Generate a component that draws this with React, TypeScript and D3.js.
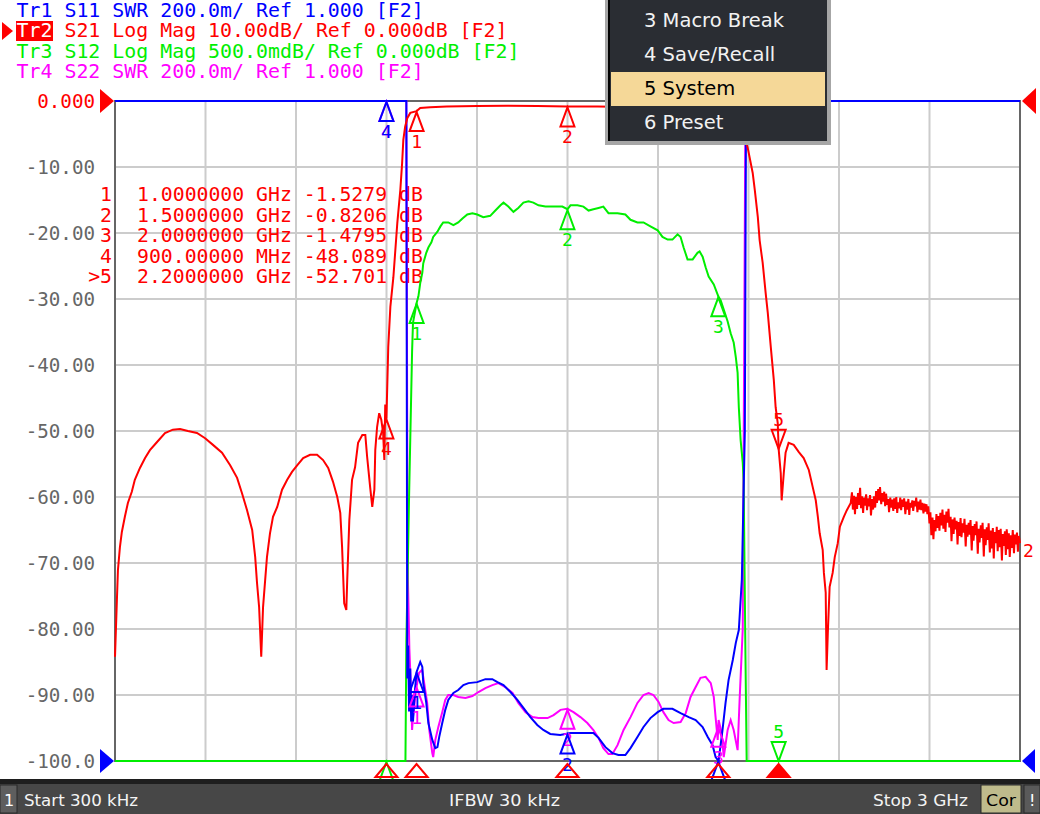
import React from 'react';
import * as d3 from 'd3';

// ---------- DATA ----------
const FREQ_START = 0.3; // MHz (300 kHz)
const FREQ_STOP = 3000; // MHz (3 GHz)

const yTickValues = [0, -10, -20, -30, -40, -50, -60, -70, -80, -90, -100];
const yTickLabels = ['0.000', '-10.00', '-20.00', '-30.00', '-40.00', '-50.00', '-60.00', '-70.00', '-80.00', '-90.00', '-100.0'];

const headerTexts = [
  'Tr1 S11 SWR 200.0m/ Ref 1.000 [F2]',
  'Tr2 S21 Log Mag 10.00dB/ Ref 0.000dB [F2]',
  'Tr3 S12 Log Mag 500.0mdB/ Ref 0.000dB [F2]',
  'Tr4 S22 SWR 200.0m/ Ref 1.000 [F2]',
];

const markerFreqs = [1000, 1500, 2000, 900, 2200];
const markerNames = ['1', '2', '3', '4', '>5'];
const markerStimText = ['1.0000000 GHz', '1.5000000 GHz', '2.0000000 GHz', '900.00000 MHz', '2.2000000 GHz'];
const markerValues = [-1.5279, -0.8206, -1.4795, -48.089, -52.701];
const markerValueText = ['-1.5279 dB', '-0.8206 dB', '-1.4795 dB', '-48.089 dB', '-52.701 dB'];
const activeMarker = 4;

const menuItems = ['3 Macro Break', '4 Save/Recall', '5 System', '6 Preset'];
const menuSelected = 2;

const statusTexts = ['Start 300 kHz', 'IFBW 30 kHz', 'Stop 3 GHz'];

// Tr2 S21 (dB)
const s21: [number, number][] = [
  [0.3, -84.2], [6.6, -75.6], [10, -71.1], [16.6, -67.6], [23, -65.3], [33, -63.0], [43, -60.9], [56, -59.2],
  [66, -57.4], [83, -55.6], [100, -54.1], [116, -52.9], [139, -51.7], [166, -50.3], [192, -49.8], [216, -49.7],
  [242, -50.0], [272, -50.3], [299, -51.1], [325, -52.1], [355, -53.3], [382, -55.2], [405, -57.1], [421, -59.4],
  [438, -62.0], [455, -65.0], [465, -69.1], [471, -73.0], [478, -76.7], [485, -84.2], [491, -76.7], [498, -72.6],
  [504, -69.1], [514, -65.5], [524, -63.0], [538, -61.5], [554, -58.9], [571, -57.4], [587, -56.2], [604, -55.2],
  [624, -54.1], [647, -53.6], [670, -53.6], [690, -54.4], [707, -55.6], [723, -57.7], [737, -60.0], [747, -62.4],
  [753, -67.6], [760, -76.1], [767, -77.1], [770, -72.6], [777, -63.5], [786, -57.4], [796, -55.5], [806, -51.8],
  [820, -50.6], [830, -50.6], [836, -53.9], [846, -58.5], [853, -61.5], [860, -58.9], [863, -52.9], [869, -49.4],
  [876, -47.3], [883, -48.3], [889, -50.3], [893, -54.4], [896, -46.0], [900, -48.09], [906, -37.3], [913, -31.2],
  [923, -26.7], [936, -18.5], [946, -13.5], [952, -9.4], [956, -5.9], [962, -3.9], [969, -2.6], [979, -1.8],
  [1000, -1.53], [1012, -1.06], [1045, -0.95], [1100, -0.85], [1200, -0.75], [1300, -0.72], [1400, -0.75],
  [1500, -0.82], [1600, -0.85], [1700, -0.9], [1800, -1.0], [1900, -1.15], [1950, -1.3], [2000, -1.48],
  [2040, -2.2], [2070, -3.5], [2085, -5.0], [2097, -7.0], [2101, -7.9], [2114, -10.9], [2121, -13.5],
  [2131, -17.6], [2137, -21.1], [2147, -24.5], [2157, -29.1], [2164, -32.1], [2174, -37.3], [2184, -42.3],
  [2190, -46.4], [2197, -48.8], [2200, -52.7], [2207, -56.4], [2210, -60.5], [2217, -56.4], [2223, -53.3],
  [2233, -51.8], [2250, -52.1], [2267, -53.2], [2283, -54.1], [2300, -55.9], [2313, -58.5], [2323, -60.5],
  [2330, -63.0], [2336, -65.5], [2346, -68.0], [2350, -71.5], [2356, -74.5], [2359, -86.2], [2363, -80.6],
  [2369, -73.6], [2379, -71.5], [2386, -69.1], [2396, -67.0], [2403, -64.5], [2416, -63.0], [2426, -62.0],
  [2439, -60.9], [2443, -59.3], [2446, -61.9], [2450, -59.8], [2453, -62.6], [2456, -60.0], [2460, -61.8],
  [2463, -59.4], [2466, -61.2], [2470, -58.6], [2473, -61.7], [2476, -59.9], [2480, -62.4], [2483, -60.1],
  [2486, -61.3], [2490, -59.6], [2493, -62.0], [2496, -60.2], [2500, -61.4], [2503, -59.7], [2506, -62.8],
  [2510, -60.3], [2513, -61.9], [2516, -59.9], [2520, -61.6], [2523, -59.1], [2526, -60.9], [2530, -58.8],
  [2533, -60.5], [2536, -58.5], [2540, -61.1], [2543, -59.4], [2546, -60.7], [2550, -59.2], [2553, -61.4],
  [2556, -59.5], [2560, -61.2], [2563, -60.3], [2566, -62.3], [2570, -60.1], [2573, -61.6], [2576, -60.4],
  [2580, -62.1], [2583, -60.2], [2586, -61.8], [2590, -60.0], [2593, -62.4], [2596, -60.8], [2600, -61.7],
  [2603, -60.1], [2606, -62.0], [2610, -60.4], [2613, -61.5], [2616, -60.2], [2620, -62.6], [2623, -60.7],
  [2626, -61.9], [2630, -60.3], [2633, -62.7], [2636, -60.9], [2640, -61.6], [2643, -60.5], [2646, -62.1],
  [2650, -60.6], [2653, -61.4], [2656, -60.1], [2660, -62.3], [2663, -60.7], [2666, -61.9], [2670, -60.4],
  [2673, -62.0], [2676, -60.9], [2680, -62.5], [2683, -61.0], [2686, -62.2], [2690, -61.1], [2693, -62.6],
  [2696, -61.4], [2700, -64.0], [2703, -62.3], [2706, -65.8], [2710, -63.1], [2713, -66.4], [2716, -63.5],
  [2720, -65.2], [2723, -62.6], [2726, -64.7], [2730, -62.9], [2733, -65.1], [2736, -62.4], [2740, -64.3],
  [2743, -61.9], [2746, -64.8], [2750, -62.7], [2753, -65.3], [2756, -62.2], [2760, -63.9], [2763, -61.8],
  [2766, -64.6], [2770, -63.0], [2773, -66.7], [2776, -63.4], [2780, -65.6], [2783, -63.1], [2786, -64.9],
  [2790, -63.6], [2793, -67.2], [2796, -63.8], [2800, -65.9], [2803, -63.2], [2806, -66.1], [2810, -64.0],
  [2813, -65.4], [2816, -63.3], [2820, -67.5], [2823, -64.2], [2826, -66.0], [2830, -63.9], [2833, -65.7],
  [2836, -63.5], [2840, -68.1], [2843, -64.4], [2846, -66.6], [2850, -64.1], [2853, -65.8], [2856, -63.7],
  [2860, -68.6], [2863, -64.8], [2866, -66.9], [2870, -64.3], [2873, -66.2], [2876, -63.9], [2880, -69.0],
  [2883, -64.9], [2886, -67.3], [2890, -64.6], [2893, -66.5], [2896, -64.0], [2900, -68.4], [2903, -65.1],
  [2906, -67.8], [2910, -64.7], [2913, -69.3], [2916, -65.3], [2920, -67.0], [2923, -64.5], [2926, -68.2],
  [2930, -65.0], [2933, -67.6], [2936, -64.8], [2940, -69.6], [2943, -65.6], [2946, -67.4], [2950, -65.2],
  [2953, -68.8], [2956, -64.9], [2960, -67.9], [2963, -65.5], [2966, -69.1], [2970, -65.8], [2973, -67.7],
  [2976, -65.0], [2980, -68.5], [2983, -65.7], [2986, -67.2], [2990, -65.4], [2993, -68.3], [2996, -65.9],
  [3000, -67.0],
];

// Tr3 S12 (dB, 0.5 dB/div)
const s12: [number, number][] = [
  [0.3, -6], [963, -6], [966, -4.1], [975, -3.0], [985, -1.9], [988, -1.68], [1000, -1.53], [1006, -1.48],
  [1012, -1.38], [1019, -1.30], [1022, -1.23], [1032, -1.15], [1039, -1.11], [1049, -1.07], [1055, -1.03],
  [1069, -0.99], [1079, -0.95], [1088, -0.92], [1105, -0.92], [1122, -0.94], [1138, -0.92], [1152, -0.89],
  [1168, -0.86], [1185, -0.85], [1201, -0.86], [1221, -0.88], [1244, -0.87], [1261, -0.83], [1278, -0.79],
  [1288, -0.77], [1304, -0.80], [1321, -0.84], [1337, -0.81], [1354, -0.77], [1371, -0.76], [1387, -0.77],
  [1404, -0.79], [1427, -0.80], [1454, -0.80], [1483, -0.80], [1500, -0.82], [1510, -0.79], [1533, -0.79],
  [1553, -0.80], [1570, -0.83], [1586, -0.82], [1603, -0.81], [1619, -0.80], [1636, -0.85], [1666, -0.85],
  [1692, -0.86], [1709, -0.90], [1732, -0.92], [1752, -0.92], [1775, -0.95], [1799, -0.98], [1815, -1.03],
  [1832, -1.05], [1848, -1.05], [1865, -1.01], [1875, -1.03], [1885, -1.11], [1898, -1.20], [1915, -1.20],
  [1931, -1.15], [1938, -1.14], [1948, -1.18], [1958, -1.26], [1968, -1.33], [1985, -1.39], [2000, -1.48],
  [2008, -1.51], [2018, -1.58], [2031, -1.67], [2041, -1.76], [2051, -1.83], [2058, -1.94], [2064, -2.06],
  [2068, -2.32], [2074, -2.57], [2081, -2.74], [2084, -2.87], [2090, -4.2], [2094, -6], [3000, -6],
];

// Tr1 S11 (SWR)
const s11: [number, number][] = [
  [0.3, 5], [966, 5], [969, 1.25], [972, 1.35], [975, 1.15], [979, 1.28], [982, 1.12], [985, 1.2], [988, 1.12],
  [994, 1.21], [1000, 1.27], [1012, 1.3], [1019, 1.285], [1022, 1.236], [1032, 1.176], [1039, 1.115],
  [1052, 1.064], [1062, 1.039], [1069, 1.042], [1075, 1.073], [1085, 1.115], [1095, 1.155], [1105, 1.185],
  [1122, 1.206], [1138, 1.215], [1155, 1.23], [1172, 1.236], [1201, 1.239], [1228, 1.248], [1251, 1.248],
  [1268, 1.239], [1288, 1.23], [1311, 1.209], [1334, 1.185], [1354, 1.161], [1377, 1.133], [1400, 1.109],
  [1420, 1.094], [1443, 1.082], [1476, 1.079], [1510, 1.085], [1553, 1.085], [1586, 1.085], [1603, 1.07],
  [1626, 1.042], [1649, 1.024], [1669, 1.018], [1692, 1.018], [1709, 1.039], [1732, 1.073], [1752, 1.103],
  [1775, 1.13], [1799, 1.148], [1818, 1.158], [1848, 1.158], [1875, 1.145], [1902, 1.133], [1925, 1.124],
  [1948, 1.103], [1965, 1.073], [1981, 1.048], [1991, 1.012], [2001, 1.0], [2014, 1.094], [2024, 1.176],
  [2034, 1.245], [2048, 1.306], [2058, 1.358], [2068, 1.397], [2078, 1.55], [2088, 2.0], [2092, 5], [3000, 5],
];

// Tr4 S22 (SWR)
const s22: [number, number][] = [
  [0.3, 5], [966, 5], [970, 1.6], [976, 1.34], [982, 1.2], [985, 1.094], [988, 1.133], [998, 1.215],
  [1008, 1.267], [1018, 1.276], [1022, 1.255], [1035, 1.176], [1042, 1.094], [1052, 1.024], [1055, 1.012],
  [1062, 1.064], [1072, 1.103], [1085, 1.148], [1095, 1.185], [1105, 1.2], [1122, 1.2], [1138, 1.194],
  [1162, 1.191], [1185, 1.197], [1205, 1.209], [1228, 1.221], [1251, 1.23], [1271, 1.236], [1294, 1.224],
  [1318, 1.206], [1337, 1.176], [1361, 1.148], [1384, 1.133], [1404, 1.13], [1434, 1.13], [1454, 1.139],
  [1477, 1.155], [1500, 1.158], [1520, 1.148], [1543, 1.133], [1566, 1.115], [1586, 1.094], [1603, 1.07],
  [1619, 1.039], [1636, 1.021], [1649, 1.021], [1666, 1.048], [1686, 1.094], [1709, 1.133], [1732, 1.176],
  [1752, 1.2], [1769, 1.206], [1785, 1.2], [1802, 1.179], [1818, 1.148], [1835, 1.124], [1852, 1.115],
  [1875, 1.118], [1892, 1.145], [1908, 1.194], [1925, 1.224], [1941, 1.252], [1958, 1.255], [1975, 1.236],
  [1985, 1.194], [1991, 1.133], [1998, 1.064], [2001, 1.124], [2011, 1.085], [2018, 1.012], [2031, 1.094],
  [2041, 1.124], [2051, 1.094], [2064, 1.033], [2071, 1.194], [2081, 1.4], [2090, 5], [3000, 5],
];

// ---------- LAYOUT ----------
const W = 1040;
const H = 814;
const PL = 115, PR = 1020, PT = 101, PB = 761;

const C_BLUE = '#0000ff';
const C_RED = '#ff0000';
const C_GREEN = '#00ee00';
const C_MAG = '#ff00ff';
const MONO = "'DejaVu Sans Mono', 'Liberation Mono', monospace";
const SANS = "'DejaVu Sans', 'Liberation Sans', sans-serif";

const x = d3.scaleLinear().domain([FREQ_START, FREQ_STOP]).range([PL, PR]);
const yDb = d3.scaleLinear().domain([-100, 0]).range([PB, PT]).clamp(true);
const yS12 = d3.scaleLinear().domain([-5, 0]).range([PB, PT]).clamp(true);
const ySwr = d3.scaleLinear().domain([1, 3]).range([PB, PT]).clamp(true);

const bis = d3.bisector((d: [number, number]) => d[0]).left;
function valueAt(tr: [number, number][], f: number) {
  const i = Math.max(1, Math.min(tr.length - 1, bis(tr, f)));
  const a = tr[i - 1], b = tr[i];
  const t = (f - a[0]) / (b[0] - a[0] || 1);
  return a[1] + t * (b[1] - a[1]);
}

function path(tr: [number, number][], ys: (v: number) => number) {
  return d3.line<[number, number]>().x(d => x(d[0])).y(d => ys(d[1]))(tr) || '';
}

function Marker({ px, py, color, label, active }: any) {
  if (active) {
    return (
      <g>
        <path d={`M${px},${py} L${px - 7},${py - 19} L${px + 7},${py - 19} Z`} fill="none" stroke={color} strokeWidth={2} />
        <text x={px} y={py - 23} fill={color} fontFamily={MONO} fontSize={18} textAnchor="middle">{label}</text>
      </g>
    );
  }
  return (
    <g>
      <path d={`M${px},${py + 1} L${px - 7},${py + 20} L${px + 7},${py + 20} Z`} fill="none" stroke={color} strokeWidth={2} />
      <text x={px} y={py + 37} fill={color} fontFamily={MONO} fontSize={18} textAnchor="middle">{label}</text>
    </g>
  );
}

export default function App() {
  const xGrid = d3.range(1, 10).map(i => PL + (PR - PL) * i / 10);
  const traces = [
    { data: s22, ys: ySwr, color: C_MAG },
    { data: s12, ys: yS12, color: C_GREEN },
    { data: s11, ys: ySwr, color: C_BLUE },
    { data: s21, ys: yDb, color: C_RED },
  ];
  const headerColors = [C_BLUE, C_RED, C_GREEN, C_MAG];
  const rowY = [194, 214.5, 235, 255.5, 276];

  return (
    <svg width={W} height={H} viewBox={`0 0 ${W} ${H}`} style={{ position: 'absolute', left: 0, top: 0, background: '#fff', display: 'block' }}>
      <rect x={0} y={0} width={W} height={H} fill="#fff" />
      {/* grid */}
      {xGrid.map((gx, i) => (
        <line key={'gx' + i} x1={gx} x2={gx} y1={PT} y2={PB} stroke="#cccccc" strokeWidth={2} />
      ))}
      {yTickValues.slice(1, -1).map((v, i) => (
        <line key={'gy' + i} x1={PL} x2={PR} y1={yDb(v)} y2={yDb(v)} stroke="#cccccc" strokeWidth={2} />
      ))}
      <rect x={PL} y={PT} width={PR - PL} height={PB - PT} fill="none" stroke="#666" strokeWidth={2} />

      {/* y labels */}
      {yTickValues.map((v, i) => (
        <text key={'yl' + i} x={95} y={yDb(v) + 7} textAnchor="end" fontFamily={MONO} fontSize={19.2}
          fill={i === 0 ? C_RED : '#666'}>{yTickLabels[i]}</text>
      ))}

      {/* marker table */}
      {markerNames.map((n, i) => (
        <g key={'mt' + i} fontFamily={MONO} fontSize={19.8} fill={C_RED}>
          <text x={112} y={rowY[i] + 7} textAnchor="end">{n}</text>
          <text x={137} y={rowY[i] + 7} style={{ whiteSpace: 'pre' }}>{markerStimText[i] + ' ' + markerValueText[i]}</text>
        </g>
      ))}

      {/* traces */}
      {traces.map((t, i) => (
        <path key={'tr' + i} d={path(t.data, t.ys)} fill="none" stroke={t.color} strokeWidth={2} strokeLinejoin="miter" />
      ))}

      {/* markers on traces */}
      {traces.map((t, ti) => markerFreqs.map((f, mi) => {
        const v = t.data === s21 ? markerValues[mi] : valueAt(t.data, f);
        const px = x(f), py = t.ys(v);
        // markers lying under the softkey menu are not shown
        if (px > 600 && px < 835 && py < 150) return null;
        return (
          <Marker key={`m${ti}-${mi}`} px={px} py={py} color={t.color}
            label={String(mi + 1)} active={mi === activeMarker} />
        );
      }))}

      {/* ref level arrows */}
      <path d={`M100,${PT - 12} L114,${PT} L100,${PT + 12} Z`} fill={C_RED} />
      <path d={`M100,${PB - 12} L114,${PB} L100,${PB + 12} Z`} fill={C_BLUE} />
      <path d={`M1036,${PT - 13} L1022,${PT} L1036,${PT + 13} Z`} fill={C_RED} />
      <path d={`M1035,${PB - 12} L1022,${PB} L1035,${PB + 12} Z`} fill={C_BLUE} />
      <text x={1023} y={557} fontFamily={MONO} fontSize={18} fill={C_RED}>2</text>

      {/* stimulus indicators */}
      {markerFreqs.map((f, i) => {
        const px = x(f);
        return (
          <path key={'st' + i} d={`M${px},${PB + 3} L${px - 11},${PB + 16} L${px + 11},${PB + 16} Z`}
            fill={i === activeMarker ? C_RED : 'none'} stroke={C_RED} strokeWidth={2} />
        );
      })}

      {/* header */}
      {headerTexts.map((t, i) => {
        const y = 17 + i * 20.3;
        return (
          <g key={'h' + i}>
            {i === 1 && <rect x={16} y={21} width={37} height={20} fill={C_RED} />}
            {i === 1 && <path d="M2,22 L13,31 L2,40 Z" fill={C_RED} />}
            <text x={16.5} y={y} fontFamily={MONO} fontSize={19.9} fill={headerColors[i]} style={{ whiteSpace: 'pre' }}>
              {i === 1 ? (<><tspan fill="#fff">{t.slice(0, 3)}</tspan><tspan>{t.slice(3)}</tspan></>) : t}
            </text>
          </g>
        );
      })}

      {/* menu */}
      <rect x={605} y={-2} width={226} height={147} fill="#a6a6a6" />
      <rect x={608} y={-2} width={219} height={143} fill="#2a2d33" />
      <rect x={608} y={-2} width={2} height={143} fill="#000" />
      <rect x={611} y={72} width={214} height={34} fill="#f5d898" />
      {menuItems.map((m, i) => (
        <text key={'mi' + i} x={644} y={27 + i * 34} fontFamily={SANS} fontSize={19.5}
          fill={i === menuSelected ? '#000' : '#f2f2f2'}>{m}</text>
      ))}

      {/* status bar */}
      <rect x={0} y={779} width={W} height={H - 779} fill="#1e1e1e" />
      <rect x={0} y={784} width={W} height={H - 784} fill="#474747" />
      <rect x={0} y={785} width={17} height={28} fill="#5e5e5e" stroke="#2a2a2a" strokeWidth={1} />
      <text x={4} y={806} fontFamily={SANS} fontSize={16} fill="#fff">1</text>
      <text x={24} y={806} fontFamily={SANS} fontSize={16} fill="#f4f4f4" textLength={114} lengthAdjust="spacingAndGlyphs">{statusTexts[0]}</text>
      <text x={449} y={806} fontFamily={SANS} fontSize={16} fill="#f4f4f4" textLength={111} lengthAdjust="spacingAndGlyphs">{statusTexts[1]}</text>
      <text x={873} y={806} fontFamily={SANS} fontSize={16} fill="#f4f4f4" textLength={95} lengthAdjust="spacingAndGlyphs">{statusTexts[2]}</text>
      <rect x={981} y={785} width={40} height={28} fill="#bfbb8c" stroke="#2a2a2a" strokeWidth={1} />
      <text x={986} y={806} fontFamily={SANS} fontSize={16} fill="#000" textLength={30} lengthAdjust="spacingAndGlyphs">Cor</text>
      <rect x={1024} y={785} width={16} height={28} fill="#5a5a5a" stroke="#2a2a2a" strokeWidth={1} />
      <text x={1029} y={806} fontFamily={SANS} fontSize={16} fill="#fff">!</text>
    </svg>
  );
}
